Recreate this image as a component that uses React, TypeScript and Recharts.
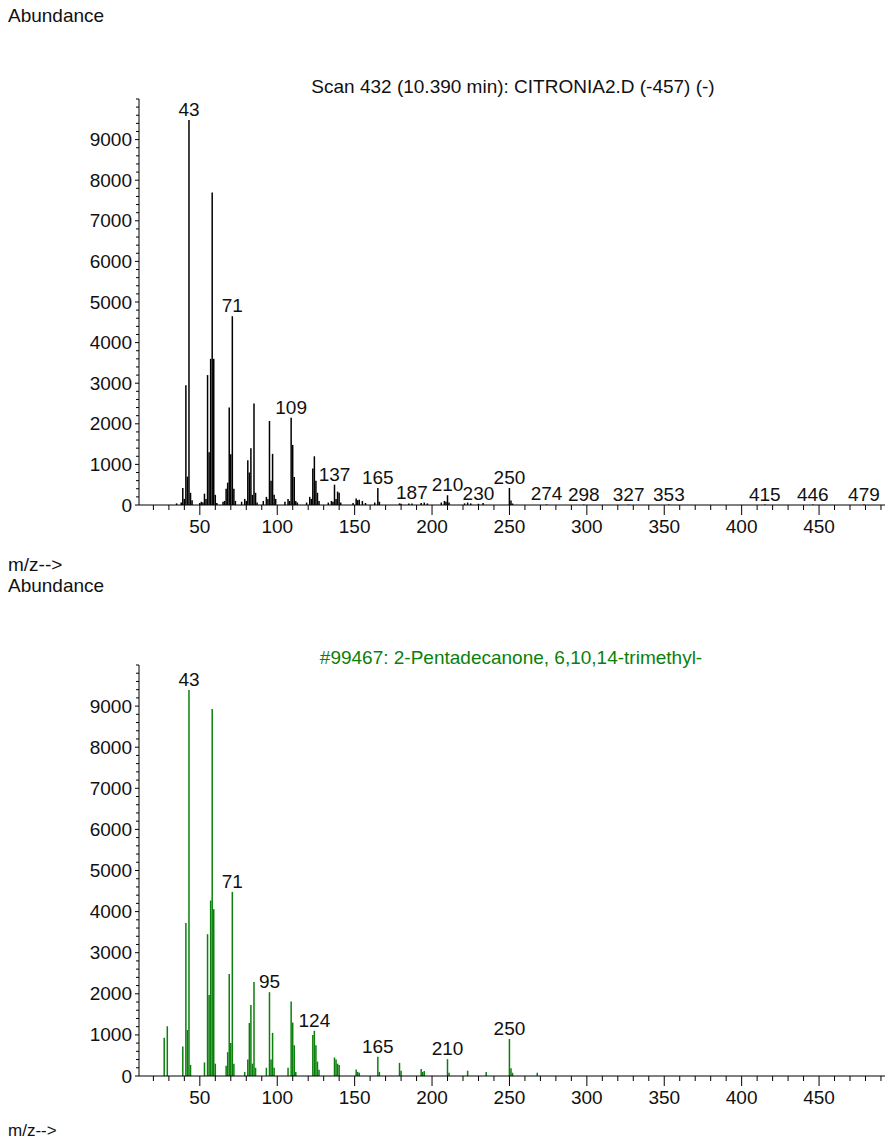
import React from "react";
import { BarChart, Bar, XAxis, YAxis, LabelList } from "recharts";

// Scan 432 – measured spectrum (m/z, abundance)
const scanMz = [
  35, 38, 39, 40, 41, 42, 43, 44, 45, 50, 51, 52, 53, 54, 55, 56, 57, 58, 59, 60, 61,
  65, 66, 67, 68, 69, 70, 71, 72, 73, 77, 79, 80, 81, 82, 83, 84, 85, 86, 87,
  91, 93, 94, 95, 96, 97, 98, 99, 105, 107, 108, 109, 110, 111, 112, 113,
  119, 121, 122, 123, 124, 125, 126, 127, 133, 135, 136, 137, 138, 139, 140, 141,
  149, 151, 152, 153, 155, 157, 163, 165, 166, 179, 180, 185, 187, 193, 195, 197,
  206, 208, 209, 210, 211, 221, 223, 225, 230, 233, 250, 251, 252,
  274, 298, 327, 353, 415, 446, 479,
];
const scanAbundance = [
  40, 60, 420, 150, 2950, 700, 9480, 300, 120, 50, 80, 60, 280, 150, 3200, 1300, 3600, 7700, 3600, 250, 50,
  80, 100, 400, 550, 2400, 1250, 4650, 400, 100, 80, 150, 100, 1100, 800, 1400, 250, 2500, 300, 60,
  100, 200, 150, 2070, 600, 1260, 250, 150, 80, 150, 100, 2150, 1480, 690, 100, 60,
  60, 200, 150, 900, 1200, 600, 300, 100, 60, 100, 80, 500, 150, 330, 300, 60,
  50, 160, 120, 130, 100, 50, 60, 420, 80, 40, 30, 40, 40, 50, 60, 40,
  60, 100, 80, 240, 60, 40, 60, 40, 30, 50, 420, 110, 40,
  15, 10, 10, 10, 10, 10, 10,
];
const scanPeakLabels = [43, 71, 109, 137, 165, 187, 210, 230, 250, 274, 298, 327, 353, 415, 446, 479];

// #99467 – library spectrum (m/z, abundance)
const libMz = [
  27, 29, 39, 41, 42, 43, 44, 53, 55, 56, 57, 58, 59, 60, 67, 68, 69, 70, 71, 72,
  79, 81, 82, 83, 84, 85, 86, 93, 95, 96, 97, 98, 107, 109, 110, 111, 112,
  123, 124, 125, 126, 127, 137, 138, 139, 140, 151, 152, 153, 165, 166,
  179, 180, 193, 194, 195, 210, 211, 223, 235, 250, 251, 252, 268,
];
const libAbundance = [
  930, 1210, 720, 3720, 1120, 9390, 270, 330, 3450, 1970, 4270, 8930, 4060, 300, 250, 580, 2480, 800, 4480, 300,
  100, 400, 1290, 1730, 300, 2290, 200, 200, 2040, 400, 1050, 200, 200, 1810, 1300, 750, 100,
  1000, 1100, 750, 350, 150, 450, 400, 300, 270, 160, 100, 80, 470, 100,
  320, 130, 170, 100, 120, 410, 80, 130, 100, 900, 190, 80, 80,
];
const libPeakLabels = [43, 71, 95, 124, 165, 210, 250];

const xTickLabels = [50, 100, 150, 200, 250, 300, 350, 400, 450];
const yTickLabels = [0, 1000, 2000, 3000, 4000, 5000, 6000, 7000, 8000, 9000];

const FONT = '"Liberation Sans", Arial, sans-serif';
const FS = 19;
const GREEN = "#0b7f0b";

const xMinorTicks = Array.from({ length: 48 }, (_, i) => 20 + i * 10);
const yMinorTicks = Array.from({ length: 51 }, (_, i) => i * 200);

function buildRows(mz: number[], ab: number[], labels: number[]) {
  return mz.map((m, i) => ({
    mz: m,
    abundance: ab[i],
    tag: labels.includes(m) ? String(m) : undefined,
  }));
}

function XTick(props: any) {
  const { x, y, payload } = props;
  const v = payload.value;
  const major = xTickLabels.includes(v);
  return (
    <g>
      <line x1={x} x2={x} y1={y} y2={y + (major ? 10 : 5)} stroke="#000" strokeWidth={1} />
      {major && (
        <text x={x} y={y + 21} textAnchor="middle" dominantBaseline="central" fontSize={FS} fontFamily={FONT} fill="#111">
          {v}
        </text>
      )}
    </g>
  );
}

function YTick(props: any) {
  const { x, y, payload } = props;
  const v = payload.value;
  const major = yTickLabels.includes(v);
  return (
    <g>
      <line x1={x - (major ? 4 : 3)} x2={x} y1={y} y2={y} stroke="#000" strokeWidth={1} />
      {major && (
        <text x={x - 7} y={y} textAnchor="end" dominantBaseline="central" fontSize={FS} fontFamily={FONT} fill="#111">
          {v}
        </text>
      )}
    </g>
  );
}

function Spectrum({ rows, color, top, height }: { rows: any[]; color: string; top: number; height: number }) {
  return (
    <BarChart
      width={885}
      height={height}
      data={rows}
      margin={{ top, right: 0, bottom: 0, left: 0 }}
      barGap={0}
      barCategoryGap={0}
    >
      <XAxis
        dataKey="mz"
        type="number"
        domain={[10.7, 492.6]}
        allowDataOverflow
        ticks={xMinorTicks}
        interval={0}
        tickSize={0}
        tickMargin={0}
        tick={<XTick />}
        axisLine={{ stroke: "#000", strokeWidth: 1 }}
        tickLine={false}
        height={45}
      />
      <YAxis
        type="number"
        domain={[0, 10000]}
        allowDataOverflow
        ticks={yMinorTicks}
        interval={0}
        tickSize={0}
        tickMargin={0}
        tick={<YTick />}
        axisLine={{ stroke: "#000", strokeWidth: 1 }}
        tickLine={false}
        width={139}
      />
      <Bar dataKey="abundance" fill={color} barSize={1.5} isAnimationActive={false}>
        <LabelList dataKey="tag" position="top" offset={4} fill="#111" fontSize={FS} fontFamily={FONT} />
      </Bar>
    </BarChart>
  );
}

const textStyle: React.CSSProperties = {
  position: "absolute",
  fontFamily: FONT,
  fontSize: FS,
  lineHeight: "20px",
  color: "#111",
  whiteSpace: "nowrap",
};

export default function App() {
  const scanRows = buildRows(scanMz, scanAbundance, scanPeakLabels);
  const libRows = buildRows(libMz, libAbundance, libPeakLabels);
  return (
    <div style={{ position: "absolute", left: 0, top: 0, width: 885, height: 1140, background: "#fff", overflow: "hidden" }}>
      <div style={{ ...textStyle, left: 8, top: 6 }}>Abundance</div>
      <div style={{ ...textStyle, left: 513, top: 77, transform: "translateX(-50%)" }}>
        Scan 432 (10.390 min): CITRONIA2.D (-457) (-)
      </div>
      <div style={{ position: "absolute", left: 0, top: 0 }}>
        <Spectrum rows={scanRows} color="#000" top={99} height={550} />
      </div>
      <div style={{ ...textStyle, left: 8, top: 555 }}>m/z--&gt;</div>
      <div style={{ ...textStyle, left: 8, top: 576 }}>Abundance</div>
      <div style={{ ...textStyle, left: 511, top: 648, transform: "translateX(-50%)", color: GREEN }}>
        #99467: 2-Pentadecanone, 6,10,14-trimethyl-
      </div>
      <div style={{ position: "absolute", left: 0, top: 570 }}>
        <Spectrum rows={libRows} color={GREEN} top={95} height={551} />
      </div>
      <div style={{ ...textStyle, left: 8, top: 1122, lineHeight: "17px", fontSize: 17 }}>m/z--&gt;</div>
    </div>
  );
}
